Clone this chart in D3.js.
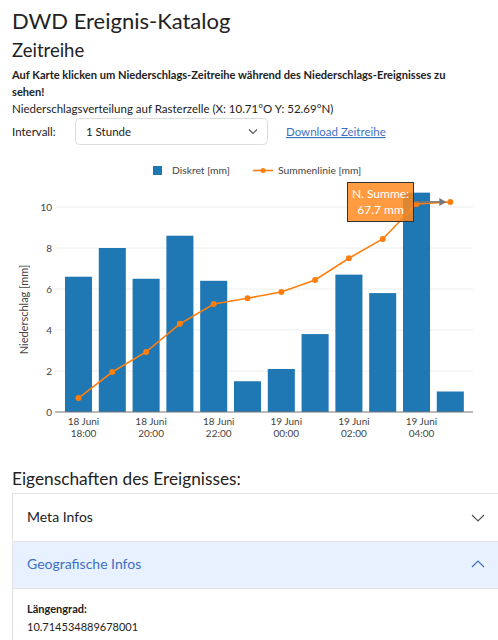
<!DOCTYPE html>
<html>
<head>
<meta charset="utf-8">
<script src="https://cdn.jsdelivr.net/npm/d3@7"></script>
<style>
  body { margin: 0; background: #fff; }
  svg text { font-family: Lato, "Open Sans", sans-serif; }
</style>
</head>
<body>
<svg id="page" width="498" height="640"></svg>
<script>
// hourly precipitation, 18 Juni 18:00 .. 19 Juni 05:00
var hours = ["18:00","19:00","20:00","21:00","22:00","23:00","00:00","01:00","02:00","03:00","04:00","05:00"]
var days = ["18 Juni","18 Juni","18 Juni","18 Juni","18 Juni","18 Juni","19 Juni","19 Juni","19 Juni","19 Juni","19 Juni","19 Juni"]
var diskret = [6.6, 8.0, 6.5, 8.6, 6.4, 1.5, 2.1, 3.8, 6.7, 5.8, 10.7, 1.0]
var summenlinie = [0.68, 1.95, 2.93, 4.3, 5.27, 5.55, 5.85, 6.44, 7.5, 8.44, 10.15, 10.25]
var yTicks = [0, 2, 4, 6, 8, 10]
var summeLabel = ["N. Summe:", "67.7 mm"]

var blue = "#1f77b4", orange = "#ff7f0e", grey = "#444"

var svg = d3.select("#page")

// ---- page header ----
svg.append("text").text("DWD Ereignis-Katalog").attr("x",12).attr("y",29)
  .style("font-size","22px").attr("fill","#222")
svg.append("text").text("Zeitreihe").attr("x",12).attr("y",57)
  .style("font-size","18.5px").attr("fill","#222")
svg.append("text").text("Auf Karte klicken um Niederschlags-Zeitreihe während des Niederschlags-Ereignisses zu")
  .attr("x",12).attr("y",79).style("font-size","11.1px").style("font-weight","bold").attr("fill","#222")
svg.append("text").text("sehen!").attr("x",12).attr("y",96)
  .style("font-size","11.1px").style("font-weight","bold").attr("fill","#222")
svg.append("text").text("Niederschlagsverteilung auf Rasterzelle (X: 10.71°O Y: 52.69°N)")
  .attr("x",12).attr("y",113).style("font-size","11.5px").attr("fill","#222")
svg.append("text").text("Intervall:").attr("x",12).attr("y",136)
  .style("font-size","11.5px").attr("fill","#222")
svg.append("rect").attr("x",75.5).attr("y",118.5).attr("width",192).attr("height",26).attr("rx",4)
  .attr("fill","#fff").attr("stroke","#dcdcdc")
svg.append("text").text("1 Stunde").attr("x",86).attr("y",136)
  .style("font-size","11.5px").attr("fill","#222")
svg.append("path").attr("d","M249,129.5 L253,133.5 L257,129.5").attr("fill","none")
  .attr("stroke","#555").attr("stroke-width",1.2)
svg.append("text").text("Download Zeitreihe").attr("x",286).attr("y",136)
  .style("font-size","11.5px").style("text-decoration","underline").attr("fill","#3f6fc4")

// ---- chart ----
var x = d3.scaleBand().domain(d3.range(hours.length)).range([61.6, 467.2])
  .paddingInner(0.2).paddingOuter(0.1)
var y = d3.scaleLinear().domain([0, 10]).range([412, 207])
var plotL = 55, plotR = 473

var chart = svg.append("g")

chart.selectAll(".grid").data(yTicks.slice(1)).enter().append("line")
  .attr("x1",plotL).attr("x2",plotR)
  .attr("y1",function(d){return y(d)}).attr("y2",function(d){return y(d)})
  .attr("stroke","#eee").attr("stroke-width",1)

chart.selectAll(".ytick").data(yTicks).enter().append("text")
  .attr("x",52).attr("y",function(d){return y(d)+3.5})
  .attr("text-anchor","end").style("font-size","10px").attr("fill",grey)
  .text(function(d){return d})

chart.append("text").text("Niederschlag [mm]")
  .attr("transform","translate(28,"+ y(5) +") rotate(-90)")
  .attr("text-anchor","middle").style("font-size","11px").attr("fill",grey)

chart.selectAll(".bar").data(diskret).enter().append("rect")
  .attr("x",function(d,i){return x(i)}).attr("width",x.bandwidth())
  .attr("y",function(d){return y(d)}).attr("height",function(d){return y(0)-y(d)})
  .attr("fill",blue)

chart.append("line").attr("x1",plotL).attr("x2",plotR).attr("y1",y(0)).attr("y2",y(0))
  .attr("stroke","#777").attr("stroke-width",1)

// x tick labels every 2 hours
var tickIdx = d3.range(0, hours.length, 2)
var xt = chart.selectAll(".xtick").data(tickIdx).enter().append("text")
  .attr("text-anchor","middle").style("font-size","10px").attr("fill",grey)
xt.append("tspan").attr("x",function(i){return x(i)+x.bandwidth()/2+5}).attr("y",425)
  .text(function(i){return days[i]})
xt.append("tspan").attr("x",function(i){return x(i)+x.bandwidth()/2+5}).attr("y",437)
  .text(function(i){return hours[i]})

var line = d3.line()
  .x(function(d,i){return x(i)+x.bandwidth()/2})
  .y(function(d){return y(d)})
chart.append("path").datum(summenlinie).attr("d",line)
  .attr("fill","none").attr("stroke",orange).attr("stroke-width",1.6)
chart.selectAll(".pt").data(summenlinie).enter().append("circle")
  .attr("cx",function(d,i){return x(i)+x.bandwidth()/2}).attr("cy",function(d){return y(d)})
  .attr("r",3).attr("fill",orange)

// legend
chart.append("rect").attr("x",153).attr("y",166).attr("width",9).attr("height",9).attr("fill",blue)
chart.append("text").text("Diskret [mm]").attr("x",172).attr("y",174)
  .style("font-size","10.3px").attr("fill",grey)
chart.append("line").attr("x1",253).attr("x2",273).attr("y1",170.5).attr("y2",170.5)
  .attr("stroke",orange).attr("stroke-width",1.6)
chart.append("circle").attr("cx",263).attr("cy",170.5).attr("r",2.5).attr("fill",orange)
chart.append("text").text("Summenlinie [mm]").attr("x",278).attr("y",174)
  .style("font-size","10.3px").attr("fill",grey)

// annotation at last cumulative point
var last = summenlinie.length - 1
var px = x(last) + x.bandwidth()/2, py = y(summenlinie[last])
var ann = chart.append("g")
ann.append("line").attr("x1",413).attr("x2",px-6).attr("y1",py).attr("y2",py)
  .attr("stroke","#777").attr("stroke-width",1.5)
ann.append("path").attr("d","M"+(px-4)+","+py+" L"+(px-11)+","+(py-4)+" L"+(px-11)+","+(py+4)+"Z")
  .attr("fill","#777")
ann.append("rect").attr("x",347.5).attr("y",182.5).attr("width",66).attr("height",39)
  .attr("fill","#ff8a1f").attr("fill-opacity",0.85).attr("stroke","#333").attr("stroke-width",1)
ann.selectAll(".al").data(summeLabel).enter().append("text")
  .attr("x",380.5).attr("y",function(d,i){return 198+i*16})
  .attr("text-anchor","middle").style("font-size","12px").attr("fill","#fff")
  .text(function(d){return d})

// ---- properties section ----
svg.append("text").text("Eigenschaften des Ereignisses:").attr("x",12).attr("y",485)
  .style("font-size","17.3px").attr("fill","#222")
svg.append("rect").attr("x",12.5).attr("y",541).attr("width",490).attr("height",47).attr("fill","#e7f1ff")
svg.append("path").attr("d","M12.5,645 L12.5,493.5 L505,493.5").attr("fill","none").attr("stroke","#e2e2e2")
svg.append("line").attr("x1",12).attr("x2",505).attr("y1",541.5).attr("y2",541.5).attr("stroke","#e2e2e2")
svg.append("line").attr("x1",12).attr("x2",505).attr("y1",588.5).attr("y2",588.5).attr("stroke","#e2e2e2")
svg.append("text").text("Meta Infos").attr("x",27).attr("y",522)
  .style("font-size","14px").attr("fill","#222")
svg.append("path").attr("d","M472,515 L478,521 L484,515").attr("fill","none").attr("stroke","#555").attr("stroke-width",1.2)
svg.append("text").text("Geografische Infos").attr("x",27).attr("y",569)
  .style("font-size","14px").attr("fill","#3f6fc4")
svg.append("path").attr("d","M472,567 L478,561 L484,567").attr("fill","none").attr("stroke","#3f6fc4").attr("stroke-width",1.2)
svg.append("text").text("Längengrad:").attr("x",27).attr("y",613)
  .style("font-size","11px").style("font-weight","bold").attr("fill","#222")
svg.append("text").text("10.714534889678001").attr("x",27).attr("y",631)
  .style("font-size","11px").attr("fill","#222")
</script>
</body>
</html>
